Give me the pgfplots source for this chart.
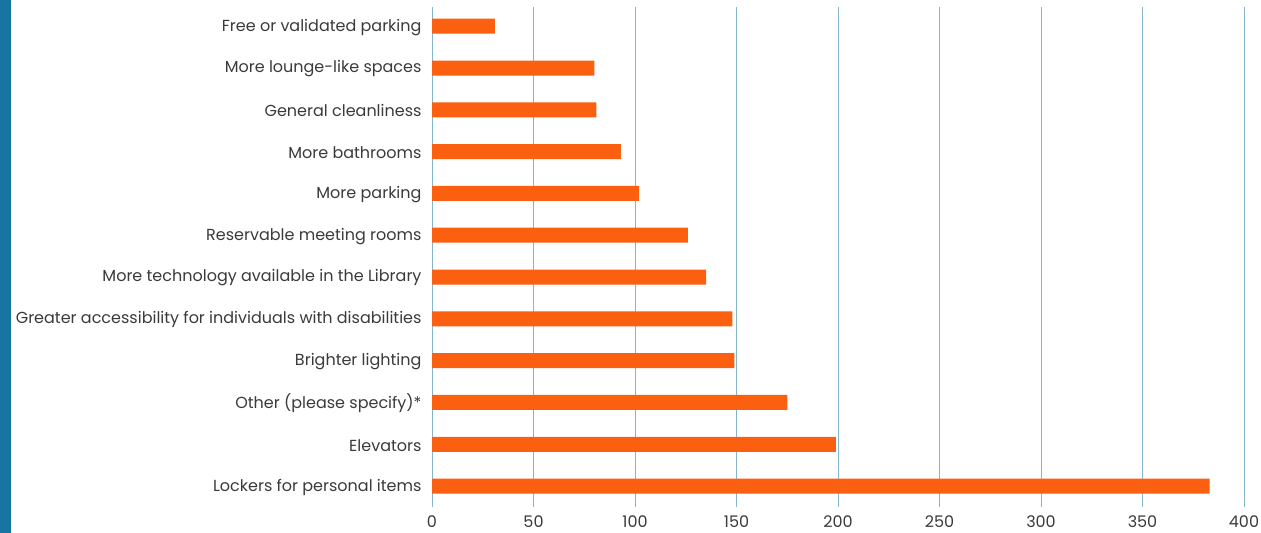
\documentclass[border=0pt]{standalone}
\usepackage{pgfplots}
\pgfplotsset{compat=1.18}
\usepackage{fontspec}
\setmainfont{Poppins}
\definecolor{barorange}{HTML}{FB6010}
\definecolor{gridblue}{HTML}{86B6CB}
\definecolor{stripblue}{HTML}{1874A0}
\definecolor{labelgray}{HTML}{3A3A3A}
\begin{document}
\begin{tikzpicture}[x=1bp,y=1bp]
\useasboundingbox (0,0) rectangle (1261,533);
\fill[stripblue] (0,0) rectangle (11,533);
\begin{axis}[
  at={(432bp,26bp)}, anchor=south west,
  scale only axis,
  width=812bp, height=500bp,
  xmin=0, xmax=400,
  ymin=-0.5, ymax=11.46,
  xbar, bar width=15bp,
  bar shift=0pt,
  axis line style={draw=none},
  xtick={0,50,...,400},
  ytick={0,...,11},
  yticklabels={Lockers for personal items,Elevators,Other (please specify)*,Brighter lighting,Greater accessibility for individuals with disabilities,More technology available in the Library,Reservable meeting rooms,More parking,More bathrooms,General cleanliness,More lounge-like spaces,Free or validated parking},
  xmajorgrids, ymajorgrids=false,
  major grid style={draw=gridblue, line width=0.9bp},
  major tick length=0pt,
  tick label style={font=\fontsize{16bp}{18bp}\selectfont, text=labelgray},
  /pgf/number format/assume math mode=true,
  yticklabel style={xshift=-7bp, yshift=-1bp},
  xticklabel style={yshift=-5bp},
  clip=false,
]
\addplot[fill=barorange, draw=none] coordinates {
(383,0) (199,1) (175,2) (149,3) (148,4) (135,5) (126,6) (102,7) (93,8) (81,9) (80,10) (31,11)
};
\end{axis}
\end{tikzpicture}
\end{document}
